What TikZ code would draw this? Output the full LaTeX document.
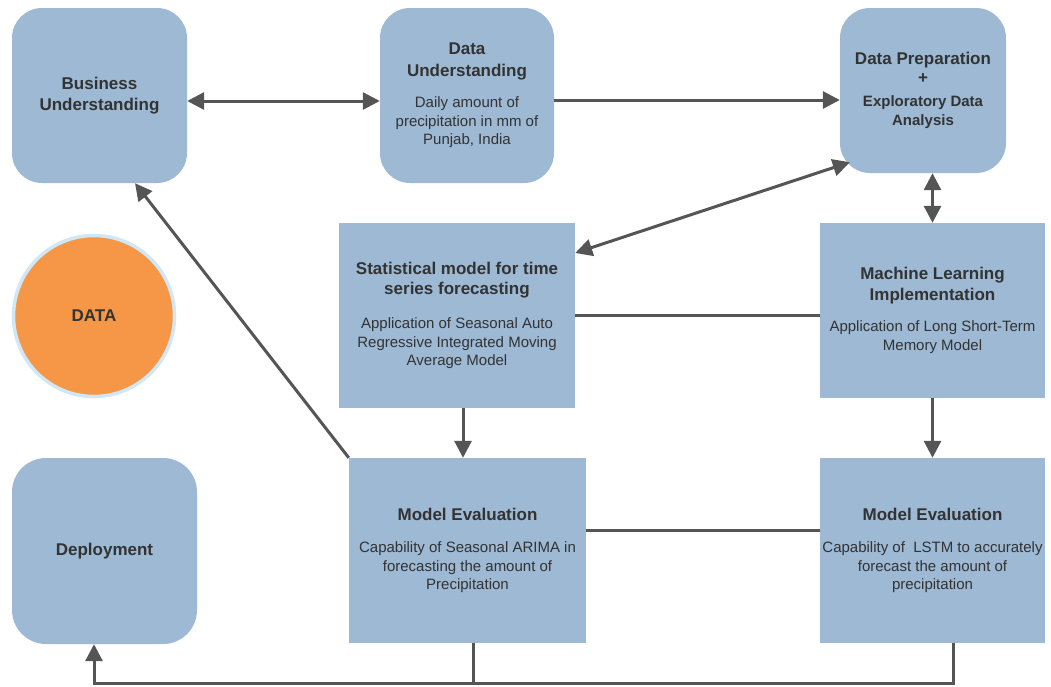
\documentclass[tikz,border=0pt]{standalone}
\usepackage{fontspec}
\setmainfont{Liberation Sans}
\usetikzlibrary{positioning,arrows.meta}

\definecolor{boxblue}{RGB}{157,185,212}
\definecolor{edgegray}{RGB}{85,85,85}
\definecolor{textgray}{RGB}{51,51,51}
\definecolor{dataorange}{RGB}{245,151,71}
\definecolor{ringblue}{RGB}{208,231,245}

\newcommand{\hd}{\fontsize{17}{21}\selectfont\bfseries}
\newcommand{\bd}{\fontsize{15}{18.5}\selectfont}

\tikzstyle{block} = [rectangle, fill=boxblue, text=textgray, align=center, inner sep=0pt, font=\bd]
\tikzstyle{rblock} = [block, rounded corners=30pt]
\tikzstyle{link} = [draw=edgegray, line width=3pt]
\tikzstyle{line} = [link, -{Triangle[length=17pt,width=17pt]}]
\tikzstyle{biline} = [link, {Triangle[length=17pt,width=17pt]}-{Triangle[length=17pt,width=17pt]}]

\begin{document}
\begin{tikzpicture}[x=1pt, y=-1pt]
    \useasboundingbox (0,0) rectangle (1051,686);

    \node [rblock, minimum width=175pt, minimum height=175pt] (Business) at (99.5,95.5)
        {\hd Business\\[2pt]\hd Understanding};
    \node [rblock, minimum width=174pt, minimum height=175pt] (DataUnd) at (467,95.5)
        {\hd Data\\[3pt]\hd Understanding\\[13pt]Daily amount of\\precipitation in mm of\\Punjab, India};
    \node [rblock, minimum width=166pt, minimum height=165pt] (DataPrep) at (923,90.5)
        {\hd Data Preparation\\\hd +\\[5pt]\bd\bfseries Exploratory Data\\\bd\bfseries Analysis};
    \node [block, minimum width=236pt, minimum height=185pt] (Stat) at (457,315.5)
        {\hd Statistical model for time\\[1pt]\hd series forecasting\\[16pt]Application of Seasonal Auto\\Regressive Integrated Moving\\Average Model};
    \node [block, minimum width=225pt, minimum height=175pt] (ML) at (932.5,310.5)
        {\hd Machine Learning\\[2pt]\hd Implementation\\[13pt]Application of Long Short-Term\\Memory Model};
    \node [circle, fill=dataorange, draw=ringblue, line width=3.5pt, minimum size=161pt, inner sep=0pt,
        text=textgray, font=\hd] (Data) at (94,316) {DATA};
    \node [rblock, rounded corners=34pt, minimum width=185pt, minimum height=186pt] (Deploy) at (104.5,551)
        {\hd Deployment};
    \node [block, minimum width=237pt, minimum height=185pt] (EvalSar) at (467.5,550.5)
        {\hd Model Evaluation\\[14pt]Capability of Seasonal ARIMA in\\forecasting the amount of\\Precipitation};
    \node [block, minimum width=225pt, minimum height=185pt] (EvalLstm) at (932.5,550.5)
        {\hd Model Evaluation\\[14pt]Capability of \ LSTM to accurately\\forecast the amount of\\precipitation};

    \path [biline] ([yshift=-5.5pt]Business.east) -- ([yshift=-5.5pt]DataUnd.west);
    \path [line] ([yshift=-4.5pt]DataUnd.east) -- ([yshift=-4.5pt]DataUnd.east -| DataPrep.west);
    \path [biline] ([shift={(10pt,11pt)}]DataPrep.south west) -- ([yshift=62.5pt]Stat.east);
    \path [biline] (DataPrep.south -| ML.north) -- (ML.north);
    \path [link] (Stat.east) -- (Stat.east -| ML.west);
    \path [line] ([xshift=6pt]Stat.south) -- ([xshift=6pt]Stat.south |- EvalSar.north);
    \path [line] (ML.south) -- (EvalLstm.north);
    \path [link] ([yshift=20.5pt]EvalSar.east) -- ([yshift=20.5pt]EvalSar.east -| EvalLstm.west);
    \path [line] (EvalSar.north west) -- ([xshift=35.5pt]Business.south);
    \path [link] ([xshift=5.5pt]EvalSar.south) -- ++(0,40);
    \path [line] ([xshift=20.5pt]EvalLstm.south) -- ++(0,40) -| ([xshift=-10.5pt]Deploy.south);
\end{tikzpicture}
\end{document}
